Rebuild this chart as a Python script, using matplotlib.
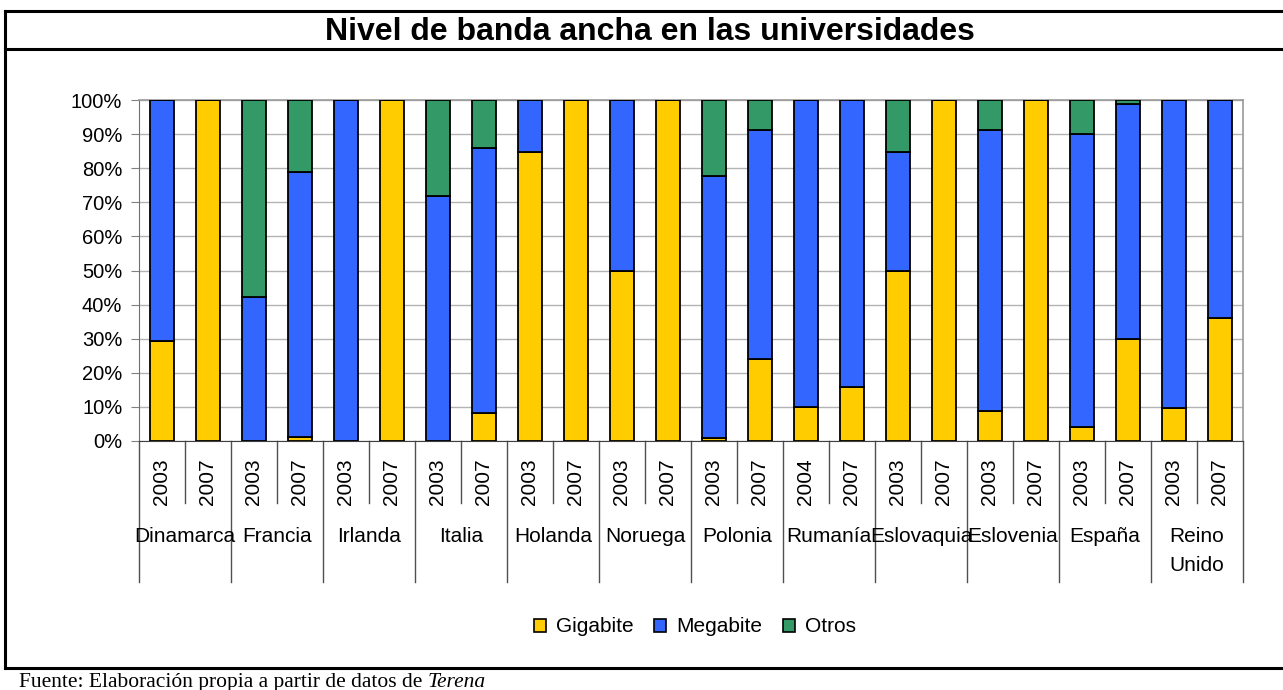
import numpy as np
import matplotlib
matplotlib.use("Agg")
import matplotlib.pyplot as plt
from matplotlib.lines import Line2D
from matplotlib.patches import Patch

plt.rcParams['font.family'] = ['Liberation Sans', 'DejaVu Sans']

countries = ['Dinamarca', 'Francia', 'Irlanda', 'Italia', 'Holanda', 'Noruega',
             'Polonia', 'Rumanía', 'Eslovaquia', 'Eslovenia', 'España', 'Reino\nUnido']
years = ['2003', '2007', '2003', '2007', '2003', '2007', '2003', '2007',
         '2003', '2007', '2003', '2007', '2003', '2007', '2004', '2007',
         '2003', '2007', '2003', '2007', '2003', '2007', '2003', '2007']
gigabite = [29.3, 100, 0, 1.2, 0, 100, 0, 8.1, 84.7, 100, 50, 100,
            1.0, 24.0, 10, 15.8, 50, 100, 8.7, 100, 4.0, 29.8, 9.8, 36.1]
megabite = [70.7, 0, 42.1, 77.7, 100, 0, 71.9, 77.8, 15.3, 0, 50, 0,
            76.7, 67.2, 90, 84.2, 34.7, 0, 82.5, 0, 86.0, 69.0, 90.2, 63.9]
otros = [0, 0, 57.9, 21.1, 0, 0, 28.1, 14.1, 0, 0, 0, 0,
         22.3, 8.8, 0, 0, 15.3, 0, 8.8, 0, 10.0, 1.2, 0, 0]
series_names = ['Gigabite', 'Megabite', 'Otros']
colors = ['#FFCC00', '#3366FF', '#339966']

W, H = 1283, 690
fig = plt.figure(figsize=(W / 100, H / 100), dpi=100)
ax = fig.add_axes([139 / W, 1 - 441 / H, (1243 - 139) / W, (441 - 100) / H])

x = np.arange(len(years))
g = np.array(gigabite)
m = np.array(megabite)
o = np.array(otros)
bw = 0.52
ax.bar(x, g, bw, color=colors[0], edgecolor='black', linewidth=1.3, zorder=3)
ax.bar(x, m, bw, bottom=g, color=colors[1], edgecolor='black', linewidth=1.3, zorder=3)
ax.bar(x, o, bw, bottom=g + m, color=colors[2], edgecolor='black', linewidth=1.3, zorder=3)

ax.set_xlim(-0.5, len(years) - 0.5)
ax.set_ylim(0, 100)
ax.set_yticks(np.arange(0, 101, 10))
ax.set_yticklabels([f'{v}%' for v in range(0, 101, 10)], fontsize=14.5)
ax.tick_params(axis='y', direction='out', length=6, color='#808080', pad=6)
ax.set_xticks([])
ax.yaxis.grid(True, color='#b3b3b3', linewidth=1, zorder=0)
ax.set_axisbelow(True)
for s in ['top', 'right']:
    ax.spines[s].set_color('#999999')
    ax.spines[s].set_linewidth(1.2)
ax.spines['left'].set_color('#707070')
ax.spines['bottom'].set_color('#404040')

# hierarchical category axis
trans = ax.get_xaxis_transform()
ax_h = 341.0
for i in range(len(years) + 1):
    xb = i - 0.5
    depth = 141 if i % 2 == 0 else 62
    ax.plot([xb, xb], [0, -depth / ax_h], transform=trans, color='#505050',
            lw=1, clip_on=False)
for i, yr in enumerate(years):
    ax.text(i, -41 / ax_h, yr, transform=trans, rotation=90, ha='center',
            va='center', fontsize=15)
for j, c in enumerate(countries):
    ax.text(2 * j + 0.5, -86 / ax_h, c, transform=trans, ha='center', va='top',
            fontsize=15, linespacing=1.65)

# legend
handles = [Patch(facecolor=colors[k], edgecolor='black', linewidth=1.2,
                 label=series_names[k]) for k in range(3)]
fig.legend(handles=handles, loc='center', bbox_to_anchor=(695 / W, 1 - 627 / H),
           ncol=3, frameon=False, fontsize=15, handlelength=0.55, handleheight=0.6,
           handletextpad=0.5, columnspacing=1.0)

# title and frame
fig.text(650 / W, 1 - 32 / H, 'Nivel de banda ancha en las universidades',
         ha='center', va='center', fontsize=23, fontweight='bold')
for yy in [11, 49, 668]:
    fig.add_artist(Line2D([5 / W, 1], [1 - yy / H, 1 - yy / H], color='black', lw=2.2))
fig.add_artist(Line2D([5 / W, 5 / W], [1 - 11 / H, 1 - 668 / H], color='black', lw=2.2))

src = fig.text(19 / W, 1 - 687 / H, 'Fuente: Elaboración propia a partir de datos de ',
               ha='left', va='baseline', fontsize=15.5, family='Liberation Serif')
ax.annotate('Terena', xy=(1, 0), xycoords=src, ha='left', va='bottom',
            fontsize=15.5, family='Liberation Serif', style='italic',
            annotation_clip=False)

fig.savefig('out.png', dpi=100)
